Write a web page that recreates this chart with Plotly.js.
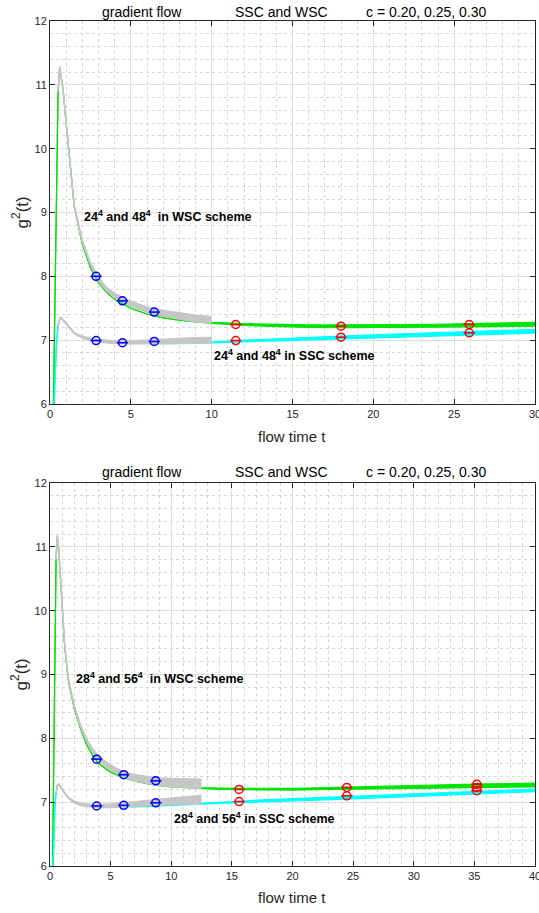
<!DOCTYPE html>
<html>
<head>
<meta charset="utf-8">
<script src="https://cdn.plot.ly/plotly-3.0.1.min.js"></script>
<style>html,body{margin:0;padding:0;background:#fff;}#chart{width:539px;height:913px;}</style>
</head>
<body>
<div id="chart"></div>
<script>
// ---------- TOP PANEL (24^4 and 48^4) ----------
const tTop = [0.2,0.3,0.4,0.5,0.6,0.7,0.8,1.0,1.2,1.5,2,2.5,3,3.5,4,5,6,7,8,9,10,12,14,16,18,20,22,24,26,28,30];
const wscLoTop = [5.8,7.8,9.8,10.9,11.27,11.1,10.95,10.4,9.85,9.1,8.5,8.14,7.9,7.75,7.64,7.5,7.41,7.35,7.31,7.285,7.265,7.23,7.21,7.2,7.195,7.195,7.2,7.205,7.21,7.215,7.22];
const wscHiTop = [5.8,7.8,9.8,10.9,11.27,11.1,10.95,10.4,9.85,9.1,8.5,8.14,7.9,7.75,7.64,7.5,7.41,7.355,7.32,7.3,7.28,7.26,7.245,7.24,7.24,7.24,7.245,7.25,7.26,7.27,7.28];
const sscLoTop = [5.6,6.3,6.95,7.22,7.34,7.35,7.32,7.25,7.19,7.11,7.04,7.0,6.98,6.965,6.955,6.95,6.945,6.945,6.945,6.95,6.955,6.975,6.99,7.005,7.02,7.035,7.05,7.065,7.08,7.095,7.11];
const sscHiTop = [5.6,6.3,6.95,7.22,7.34,7.35,7.32,7.25,7.19,7.11,7.04,7.0,6.98,6.965,6.955,6.95,6.945,6.95,6.955,6.96,6.97,7.0,7.025,7.045,7.065,7.085,7.1,7.12,7.135,7.15,7.17];
const tLatTop = [0.5,0.6,0.7,0.8,1.0,1.2,1.5,2,2.5,3,3.5,4,5,6,7,8,9,10];
const latWscLoTop = [10.89,11.27,11.09,10.94,10.39,9.84,9.09,8.53,8.18,7.925,7.77,7.665,7.53,7.44,7.375,7.33,7.29,7.27];
const latWscHiTop = [10.91,11.29,11.11,10.96,10.41,9.86,9.11,8.57,8.22,7.975,7.83,7.735,7.61,7.52,7.465,7.43,7.39,7.37];
const latSscLoTop = [7.21,7.33,7.34,7.31,7.24,7.18,7.1,7.035,6.99,6.97,6.955,6.948,6.942,6.94,6.945,6.95,6.955,6.955];
const latSscHiTop = [7.23,7.35,7.36,7.33,7.26,7.2,7.12,7.065,7.03,7.01,6.995,6.99,6.988,6.998,7.013,7.028,7.04,7.045];
const blueTopT = [2.85,4.48,6.45,2.85,4.48,6.45];
const blueTopG = [8.0,7.616,7.44,6.995,6.96,6.98];
const redTopT = [11.49,18.0,25.93,11.49,18.0,25.93];
const redTopG = [7.246,7.22,7.246,6.995,7.047,7.115];

// ---------- BOTTOM PANEL (28^4 and 56^4) ----------
const tBot = [0.2,0.3,0.4,0.5,0.6,0.7,0.8,1.0,1.2,1.5,2,2.5,3,3.5,4,5,6,7,8,9,10,12,14,16,18,20,22,24,26,28,30,32,34,36,38,40];
const wscLoBot = [5.8,7.8,9.8,10.8,11.16,11.0,10.7,10.05,9.47,8.92,8.47,8.16,7.91,7.74,7.61,7.47,7.39,7.33,7.29,7.26,7.24,7.215,7.2,7.195,7.19,7.19,7.195,7.2,7.205,7.21,7.215,7.22,7.225,7.23,7.235,7.24];
const wscHiBot = [5.8,7.8,9.8,10.8,11.16,11.0,10.7,10.05,9.47,8.92,8.47,8.16,7.91,7.74,7.61,7.47,7.39,7.33,7.29,7.265,7.25,7.23,7.22,7.215,7.215,7.215,7.225,7.235,7.245,7.255,7.26,7.27,7.275,7.285,7.29,7.3];
const sscLoBot = [5.6,6.3,6.9,7.15,7.26,7.28,7.26,7.2,7.14,7.07,7.0,6.96,6.94,6.93,6.925,6.92,6.92,6.925,6.93,6.94,6.95,6.965,6.98,6.995,7.005,7.015,7.03,7.045,7.06,7.075,7.09,7.105,7.12,7.135,7.15,7.165];
const sscHiBot = [5.6,6.3,6.9,7.15,7.26,7.28,7.26,7.2,7.14,7.07,7.0,6.96,6.94,6.93,6.925,6.92,6.92,6.93,6.94,6.95,6.96,6.99,7.01,7.025,7.04,7.055,7.07,7.085,7.1,7.115,7.13,7.145,7.16,7.175,7.19,7.205];
const tLatBot = [0.5,0.6,0.7,0.8,1.0,1.2,1.5,2,2.5,3,3.5,4,5,6,7,8,9,10,11,12,12.5];
const latWscLoBot = [10.79,11.16,10.99,10.69,10.04,9.49,8.94,8.49,8.18,7.955,7.795,7.655,7.5,7.4,7.33,7.29,7.26,7.245,7.23,7.215,7.21];
const latWscHiBot = [10.81,11.18,11.01,10.71,10.06,9.51,8.96,8.52,8.22,8.0,7.845,7.72,7.58,7.48,7.43,7.4,7.38,7.37,7.365,7.36,7.36];
const latSscLoBot = [7.14,7.25,7.27,7.25,7.19,7.13,7.06,6.985,6.95,6.93,6.922,6.917,6.917,6.92,6.93,6.945,6.955,6.965,6.97,6.97,6.97];
const latSscHiBot = [7.16,7.27,7.29,7.27,7.21,7.15,7.08,7.015,6.99,6.97,6.966,6.963,6.972,6.99,7.01,7.035,7.05,7.065,7.085,7.1,7.11];
const blueBotT = [3.85,6.08,8.72,3.85,6.08,8.72];
const blueBotG = [7.674,7.43,7.334,6.94,6.95,6.99];
const redBotT = [15.6,24.48,35.2,15.6,24.48,35.2,35.2];
const redBotG = [7.2,7.23,7.28,7.01,7.1,7.18,7.23];

// ---------- text ----------
const titleParts = ['gradient flow','SSC and WSC','c = 0.20, 0.25, 0.30'];
const xLabel = 'flow time t';
const yLabel = 'g<sup>2</sup>(t)';
const labelsTop = ['24<sup>4</sup> and 48<sup>4</sup>  in WSC scheme','24<sup>4</sup> and 48<sup>4</sup> in SSC scheme'];
const labelsBot = ['28<sup>4</sup> and 56<sup>4</sup>  in WSC scheme','28<sup>4</sup> and 56<sup>4</sup> in SSC scheme'];

const GREEN = '#00e400', CYAN = '#00ffff', GRAY = '#c6c6c6';

function band(x, lo, hi, color, width, xa, ya) {
  return [
    {x: x, y: lo, type: 'scatter', mode: 'lines', line: {color: color, width: width}, xaxis: xa, yaxis: ya, hoverinfo: 'skip', showlegend: false},
    {x: x, y: hi, type: 'scatter', mode: 'lines', fill: 'tonexty', fillcolor: color, line: {color: color, width: width}, xaxis: xa, yaxis: ya, hoverinfo: 'skip', showlegend: false}
  ];
}
function marks(x, y, color, xa, ya) {
  return [
    {x: x, y: y, type: 'scatter', mode: 'markers', marker: {symbol: 'circle-open', size: 8, color: color, line: {width: 1.5, color: color}}, xaxis: xa, yaxis: ya, showlegend: false},
    {x: x, y: y, type: 'scatter', mode: 'markers', marker: {symbol: 'line-ew-open', size: 8, color: color, line: {width: 1.5, color: color}}, xaxis: xa, yaxis: ya, showlegend: false}
  ];
}

let traces = [];
traces = traces.concat(
  band(tTop, wscLoTop, wscHiTop, GREEN, 1.2, 'x', 'y'),
  band(tTop, sscLoTop, sscHiTop, CYAN, 1.2, 'x', 'y'),
  band(tLatTop, latWscLoTop, latWscHiTop, GRAY, 1.4, 'x', 'y'),
  band(tLatTop, latSscLoTop, latSscHiTop, GRAY, 1.4, 'x', 'y'),
  marks(blueTopT, blueTopG, '#0000ff', 'x', 'y'),
  marks(redTopT, redTopG, '#ff0000', 'x', 'y'),
  band(tBot, wscLoBot, wscHiBot, GREEN, 1.2, 'x2', 'y2'),
  band(tBot, sscLoBot, sscHiBot, CYAN, 1.2, 'x2', 'y2'),
  band(tLatBot, latWscLoBot, latWscHiBot, GRAY, 1.4, 'x2', 'y2'),
  band(tLatBot, latSscLoBot, latSscHiBot, GRAY, 1.4, 'x2', 'y2'),
  marks(blueBotT, blueBotG, '#0000ff', 'x2', 'y2'),
  marks(redBotT, redBotG, '#ff0000', 'x2', 'y2')
);

const FONT = 'Liberation Sans, Arial, Helvetica, sans-serif';
function xax(range, dtick, anchor) {
  return {
    range: range, dtick: dtick, tick0: 0, anchor: anchor, domain: [0, 1],
    showline: true, linecolor: '#262626', linewidth: 1, mirror: 'ticks',
    ticks: 'inside', ticklen: 5, tickcolor: '#262626', ticklabeloverflow: 'allow',
    showgrid: true, gridcolor: '#dedede', gridwidth: 1,
    minor: {dtick: 1, showgrid: true, gridcolor: '#d6d6d6', griddash: 'dot', gridwidth: 1},
    zeroline: false, tickfont: {family: FONT, size: 11, color: '#262626'}
  };
}
function yax(domain, anchor) {
  return {
    range: [6, 12], dtick: 1, anchor: anchor, domain: domain,
    showline: true, linecolor: '#262626', linewidth: 1, mirror: 'ticks',
    ticks: 'inside', ticklen: 5, tickcolor: '#262626',
    showgrid: true, gridcolor: '#dedede', gridwidth: 1,
    minor: {dtick: 0.2, showgrid: true, gridcolor: '#d6d6d6', griddash: 'dot', gridwidth: 1},
    zeroline: false, tickfont: {family: FONT, size: 11, color: '#262626'}
  };
}

const ann = [];
function addPanelText(yr, titleY, xlabY, labXref, labels, labPos) {
  const titleX = [0.189, 0.4773, 0.7753];
  titleParts.forEach((s, i) => ann.push({text: s, x: titleX[i], y: titleY, xref: 'paper', yref: 'paper', xanchor: 'center', yanchor: 'middle', showarrow: false, font: {family: FONT, size: 14, color: '#000'}}));
  ann.push({text: xLabel, x: 0.499, y: xlabY, xref: 'paper', yref: 'paper', xanchor: 'center', yanchor: 'middle', showarrow: false, font: {family: FONT, size: 15, color: '#262626'}});
  ann.push({text: yLabel, x: -0.062, y: 9, xref: 'paper', yref: yr, xanchor: 'center', yanchor: 'middle', textangle: -90, showarrow: false, font: {family: FONT, size: 17, color: '#262626'}});
  labels.forEach((s, i) => ann.push({text: '<b>' + s + '</b>', x: labPos[i][0], y: labPos[i][1], xref: labXref, yref: yr, xanchor: 'left', yanchor: 'middle', showarrow: false, font: {family: FONT, size: 12.5, color: '#000'}}));
}
addPanelText('y', 1.0107, 0.5083, 'x', labelsTop, [[1.98, 8.95], [10.04, 6.77]]);
addPanelText('y2', 0.4663, -0.0367, 'x2', labelsBot, [[1.98, 8.94], [10.04, 6.75]]);

const layout = {
  width: 539, height: 913,
  margin: {l: 50, r: 4, t: 21, b: 47},
  paper_bgcolor: '#ffffff', plot_bgcolor: '#ffffff',
  showlegend: false,
  xaxis: xax([0, 30], 5, 'y'),
  yaxis: yax([0.5467, 1], 'x'),
  xaxis2: xax([0, 40], 5, 'y2'),
  yaxis2: yax([0, 0.4533], 'x2'),
  annotations: ann
};

Plotly.newPlot('chart', traces, layout, {displayModeBar: false, staticPlot: true});
</script>
</body>
</html>
